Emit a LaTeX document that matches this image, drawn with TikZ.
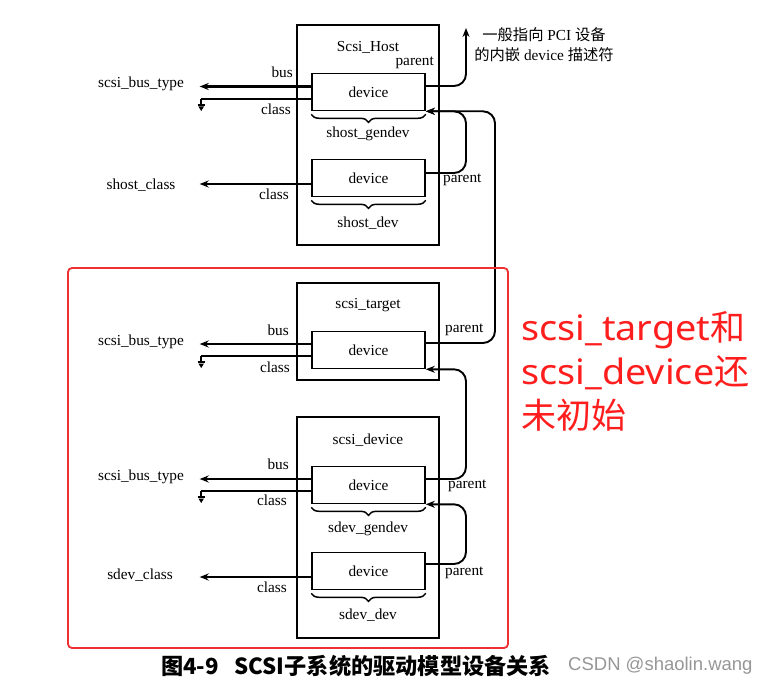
\documentclass[tikz,border=0pt]{standalone}
\usepackage{fontspec}
\setmainfont{Liberation Serif}
\newfontfamily\cjk{Noto Sans CJK SC}
\newfontfamily\redlatin{Noto Sans}[FakeStretch=1.08]
\newfontfamily\wmfont{Liberation Sans}
\usetikzlibrary{arrows.meta,decorations.pathreplacing}
\definecolor{redbox}{RGB}{238,48,48}
\definecolor{redtxt}{RGB}{255,30,30}
\definecolor{wmgray}{RGB}{150,150,150}
\begin{document}
\begin{tikzpicture}[x=1pt,y=-1pt,
  font=\fontsize{15.3}{18}\selectfont,
  outer/.style={draw, line width=1.6pt, minimum width=142pt, inner sep=0pt},
  dev/.style={draw, line width=1.6pt, minimum width=113pt, minimum height=37pt, inner sep=0pt},
  arr/.style={line width=2.2pt, -{Stealth[length=9pt,width=7pt]}},
  par/.style={line width=1.9pt, rounded corners=12pt, -{Stealth[length=9pt,width=7pt]}},
  cls/.style={line width=1.6pt},
  lbl/.style={inner sep=0pt},
  brc/.style={decorate, decoration={brace, mirror, amplitude=8pt}, line width=1.5pt},
  gnd/.pic={\draw[line width=1.5pt] (0,0) -- (0,6);
            \draw[line width=1.5pt] (-3.5,6) -- (3.5,6);
            \fill (-2.8,7.5) -- (2.8,7.5) -- (0,12) -- cycle;}
]
\useasboundingbox (0,0) rectangle (769,685);

% outer boxes
\node[outer, minimum height=220pt] (host) at (368,135) {};
\node[outer, minimum height=97pt] (tgt) at (368,331.5) {};
\node[outer, minimum height=221pt] (sdv) at (368,527.5) {};

\node[lbl] (thost) at (368,47) {Scsi\_Host};
\node[lbl] (ttgt) at (368,305) {scsi\_target};
\node[lbl] (tsdv) at (368,440) {scsi\_device};

% device boxes
\node[dev] (hg) at (368.5,92) {device};
\node[dev] (hd) at (368.5,178) {device};
\node[dev] (tg) at (368.5,350) {device};
\node[dev] (sg) at (368.5,485) {device};
\node[dev] (sd) at (368.5,571) {device};

% braces
\draw[brc] ([yshift=-3pt]hg.south west) -- ([yshift=-3pt]hg.south east);
\draw[brc] ([yshift=-3pt]hd.south west) -- ([yshift=-3pt]hd.south east);
\draw[brc] ([yshift=-3pt]sg.south west) -- ([yshift=-3pt]sg.south east);
\draw[brc] ([yshift=-3pt]sd.south west) -- ([yshift=-3pt]sd.south east);
\node[lbl] (bhg) at (368,134) {shost\_gendev};
\node[lbl] (bhd) at (368,223) {shost\_dev};
\node[lbl] (bsg) at (368,529) {sdev\_gendev};
\node[lbl] (bsd) at (368,615) {sdev\_dev};

% left names
\node[lbl] (n1) at (141,84) {scsi\_bus\_type};
\node[lbl] (n2) at (141,185) {shost\_class};
\node[lbl] (n3) at (141,342) {scsi\_bus\_type};
\node[lbl] (n4) at (141,477) {scsi\_bus\_type};
\node[lbl] (n5) at (140,575) {sdev\_class};

% bus / class arrows
\draw[arr] ([yshift=5.5pt]hg.west) -- ++(-111.5,0);
\draw[cls] ([yshift=-7pt]hg.west) -- ++(-110,0) pic {gnd};
\draw[arr] ([yshift=-6pt]hd.west) -- ++(-111.5,0);
\draw[arr] ([yshift=6pt]tg.west) -- ++(-111.5,0);
\draw[cls] ([yshift=-6pt]tg.west) -- ++(-110,0) pic {gnd};
\draw[arr] ([yshift=6pt]sg.west) -- ++(-111.5,0);
\draw[cls] ([yshift=-6pt]sg.west) -- ++(-110,0) pic {gnd};
\draw[arr] ([yshift=-6pt]sd.west) -- ++(-111.5,0);

% bus/class labels
\node[lbl, anchor=east] (l1) at (293,72) {bus};
\node[lbl, anchor=east] (l2) at (291,109) {class};
\node[lbl, anchor=east] (l3) at (289,194) {class};
\node[lbl, anchor=east] (l4) at (289,330) {bus};
\node[lbl, anchor=east] (l5) at (290,367) {class};
\node[lbl, anchor=east] (l6) at (289,464) {bus};
\node[lbl, anchor=east] (l7) at (287,500) {class};
\node[lbl, anchor=east] (l8) at (287,587) {class};

% parent connectors
\coordinate (lX) at (466,0);
\coordinate (rX) at (495,0);
\coordinate (pci) at (466,28);
\draw[par] ([yshift=6pt]hg.east) -| (pci);
\draw[par] ([yshift=7pt]tg.east) -| (rX |- hg.south east) -- (hg.south east);
\draw[par] ([yshift=5pt]hd.east) -| (lX |- hg.south east) -- (hg.south east);
\draw[par] ([yshift=6pt]sg.east) -| (lX |- tg.south east) -- (tg.south east);
\draw[par] ([yshift=7pt]sd.east) -| (lX |- sg.south east) -- (sg.south east);

\node[lbl, anchor=east] (p1) at (434,63) {parent};
\node[lbl, anchor=west] (p2) at (443,180) {parent};
\node[lbl, anchor=west] (p3) at (445,330) {parent};
\node[lbl, anchor=west] (p4) at (448,486) {parent};
\node[lbl, anchor=west] (p5) at (445,573) {parent};

% annotation
\node[lbl, align=center, font=\fontsize{15.3}{20}\selectfont] (note) at (544,45)
  {{\cjk 一般指向} PCI {\cjk 设备}\\{\cjk 的内嵌} device {\cjk 描述符}};

% red frame and text
\draw[redbox, line width=1.8pt, rounded corners=4pt] (68,268) rectangle (508,648);
\node[lbl, anchor=base west, text=redtxt, font=\fontsize{35}{44}\selectfont] (r1) at (521,340) {{\redlatin scsi\_target}{\cjk 和}};
\node[lbl, anchor=base west, text=redtxt, font=\fontsize{35}{44}\selectfont] (r2) at (521,384) {{\redlatin scsi\_device}{\cjk 还}};
\node[lbl, anchor=base west, text=redtxt, font=\fontsize{35}{44}\selectfont] (r3) at (521,428) {{\cjk 未初始}};

% caption
\node[lbl, anchor=west, font=\cjk\bfseries\fontsize{22.2}{24}\selectfont] (cap) at (161,666)
  {图4-9\hspace{0.7em}SCSI子系统的驱动模型设备关系};
\node[lbl, anchor=west, text=wmgray, font=\wmfont\fontsize{18.5}{22}\selectfont] (wm) at (568,666)
  {CSDN @shaolin.wang};
\end{tikzpicture}
\end{document}
